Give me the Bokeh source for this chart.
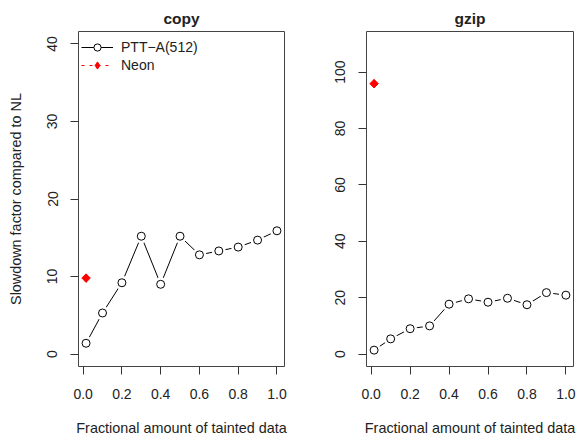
from bokeh.plotting import figure
from bokeh.layouts import row
from bokeh.models import Legend, LegendItem, FixedTicker
from bokeh.embed import file_html
from bokeh.resources import INLINE

# ---- data ----
frac = [0.015, 0.1, 0.2, 0.3, 0.4, 0.5, 0.6, 0.7, 0.8, 0.9, 1.0]
copy_ptt = [1.4, 5.3, 9.2, 15.2, 9.0, 15.2, 12.8, 13.3, 13.8, 14.7, 15.9]
gzip_ptt = [1.4, 5.4, 9.0, 10.0, 17.7, 19.6, 18.4, 19.8, 17.5, 21.8, 20.9]
neon_x = [0.015]
copy_neon = [9.8]
gzip_neon = [95.9]

x_ticks = [0, 0.2, 0.4, 0.6, 0.8, 1.0]
x_tick_labels = ["0.0", "0.2", "0.4", "0.6", "0.8", "1.0"]
copy_y_ticks = [0, 10, 20, 30, 40]
gzip_y_ticks = [0, 20, 40, 60, 80, 100]

FONT = "Liberation Sans"
TXT = "#222222"


def make_panel(title, ptt, neon, yticks, yrange, ylabel, with_legend,
               min_left, min_right, frame_w):
    p = figure(frame_width=frame_w, frame_height=335,
               x_range=(-0.024, 1.039), y_range=yrange,
               output_backend="svg", toolbar_location=None,
               min_border_left=min_left, min_border_right=min_right,
               min_border_top=31, min_border_bottom=72,
               background_fill_color="white", border_fill_color="white")
    p.grid.visible = False
    p.outline_line_color = "#444444"
    p.outline_line_width = 1

    p.title.text = title
    p.title.align = "center"
    p.title.vertical_align = "top"
    p.title.text_font = FONT
    p.title.text_font_size = "15.5px"
    p.title.text_font_style = "bold"
    p.title.text_color = TXT
    p.title.standoff = 6

    ln = p.line(frac, ptt, line_color="black", line_width=1)
    p.scatter(frac, ptt, size=14, fill_color="white", line_color=None)
    pts = p.scatter(frac, ptt, marker="circle", size=8, fill_color="white",
                    line_color="black", line_width=1)
    nln = p.line(neon_x, neon, line_color="red", line_width=1, line_dash="3 5")
    # small diamond (hidden under the main marker) used for the legend glyph
    nleg = p.scatter(neon_x, neon, marker="diamond", size=8,
                     fill_color="red", line_color="red")
    p.scatter(neon_x, neon, marker="square", angle=0.785, size=6,
              fill_color="red", line_color="red")

    xa = p.xaxis[0]
    xa.ticker = FixedTicker(ticks=x_ticks)
    xa.major_label_overrides = dict(zip(x_ticks, x_tick_labels))
    xa.axis_label = "Fractional amount of tainted data"
    ya = p.yaxis[0]
    ya.ticker = FixedTicker(ticks=yticks)
    ya.major_label_orientation = "vertical"
    if ylabel:
        ya.axis_label = ylabel
    for ax in (xa, ya):
        ax.axis_line_color = None
        ax.major_tick_out = 8
        ax.major_tick_in = 0
        ax.major_tick_line_color = "#333333"
        ax.minor_tick_line_color = None
        ax.major_label_text_font = FONT
        ax.major_label_text_font_size = "14px"
        ax.major_label_text_color = TXT
        ax.axis_label_text_font = FONT
        ax.axis_label_text_font_size = "14.4px"
        ax.axis_label_text_font_style = "normal"
        ax.axis_label_text_color = TXT
    xa.major_label_standoff = 14
    xa.axis_label_standoff = 18
    ya.major_label_standoff = 13
    ya.axis_label_standoff = 21

    if with_legend:
        leg = Legend(items=[LegendItem(label="PTT\u2212A(512)", renderers=[ln, pts]),
                            LegendItem(label="Neon", renderers=[nln, nleg])],
                     location=(3, 292), orientation="vertical",
                     padding=3, margin=0, spacing=0,
                     glyph_width=32, glyph_height=18, label_height=18,
                     label_standoff=8,
                     label_text_font=FONT, label_text_font_size="14px",
                     label_text_color=TXT,
                     border_line_color=None, background_fill_alpha=0)
        p.add_layout(leg, "center")
    return p


p1 = make_panel("copy", copy_ptt, copy_neon, copy_y_ticks, (-1.6, 41.6),
                "Slowdown factor compared to NL", True, 78, 24, 206)
p2 = make_panel("gzip", gzip_ptt, gzip_neon, gzip_y_ticks, (-4.4, 114.4),
                None, False, 58, 5, 207)

layout = row(p1, p2, spacing=0)
open("out.html", "w").write(file_html(layout, INLINE))
